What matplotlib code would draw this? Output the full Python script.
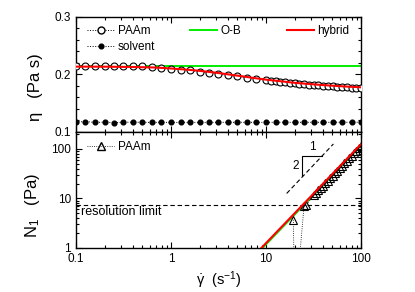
import matplotlib
matplotlib.use('Agg')
import matplotlib.pyplot as plt
from matplotlib.lines import Line2D
from matplotlib.ticker import LogLocator, MultipleLocator, NullFormatter

plt.rcParams['font.family'] = ['Liberation Sans', 'DejaVu Sans']
plt.rcParams['mathtext.fontset'] = 'custom'
plt.rcParams['mathtext.rm'] = 'Liberation Sans'
plt.rcParams['mathtext.it'] = 'Liberation Sans'
plt.rcParams['mathtext.default'] = 'regular'

# viscosity data (PAAm, measured)
rate_paam = [0.1, 0.126, 0.158, 0.2, 0.251, 0.316, 0.398, 0.501, 0.631, 0.794,
             1.0, 1.26, 1.58, 2.0, 2.51, 3.16, 3.98, 5.01, 6.31, 7.94,
             10.0, 11.2, 12.6, 14.1, 15.8, 17.8, 20.0, 22.4, 25.1, 28.2,
             31.6, 35.5, 39.8, 44.7, 50.1, 56.2, 63.1, 70.8, 79.4, 89.1, 100.0]
eta_paam = [0.2153, 0.2153, 0.2152, 0.2152, 0.2151, 0.2150, 0.2148, 0.2143, 0.2132, 0.2112,
            0.2100, 0.2085, 0.2070, 0.2050, 0.2025, 0.2005, 0.1985, 0.1965, 0.1945, 0.1925,
            0.1905, 0.1895, 0.1885, 0.1875, 0.1866, 0.1857, 0.1848, 0.1840, 0.1832, 0.1825,
            0.1818, 0.1811, 0.1805, 0.1799, 0.1793, 0.1787, 0.1781, 0.1776, 0.1771, 0.1766, 0.1761]

# solvent viscosity
rate_solv = [0.1, 0.126, 0.158, 0.2, 0.251, 0.316, 0.398, 0.501, 0.631, 0.794,
             1.0, 1.26, 1.58, 2.0, 2.51, 3.16, 3.98, 5.01, 6.31, 7.94,
             10.0, 12.6, 15.8, 20.0, 25.1, 31.6, 39.8, 50.1, 63.1, 79.4, 100.0]
eta_solv = [0.1172, 0.1182, 0.1166, 0.1170, 0.1162, 0.1168, 0.1170, 0.1168, 0.1166, 0.1167,
            0.1166, 0.1167, 0.1166, 0.1167, 0.1166, 0.1167, 0.1168, 0.1167, 0.1168, 0.1167,
            0.1168, 0.1167, 0.1168, 0.1168, 0.1168, 0.1168, 0.1168, 0.1168, 0.1169, 0.1169, 0.1169]

# model curves, viscosity
rate_ob = [0.1, 100.0]
eta_ob = [0.2153, 0.2153]
rate_hyb = [0.1, 0.2, 0.4, 0.7, 1.0, 1.5, 2.0, 3.0, 5.0, 7.0, 10.0, 20.0, 40.0, 70.0, 100.0]
eta_hyb = [0.2136, 0.2135, 0.2130, 0.2120, 0.2104, 0.2083, 0.2063, 0.2030, 0.1980, 0.1945,
           0.1910, 0.1855, 0.1815, 0.1790, 0.1777]

# first normal stress difference
rate_n1 = [19.4, 20.2, 21.8, 25.1, 26.6, 31.6, 33.5, 35.5, 37.6, 39.8, 42.2, 44.7, 47.3,
           50.1, 53.1, 56.2, 59.6, 63.1, 66.8, 70.8, 75.0, 79.4, 84.1, 89.1, 94.4, 100.0]
n1_paam = [3.7, 0.02, 0.3, 6.9, 7.4, 11.5, 12.9, 14.5, 16.2, 18.2, 20.5, 22.9, 25.8,
           28.9, 32.5, 36.4, 40.8, 45.8, 51.3, 57.7, 64.7, 72.5, 81.4, 91.2, 102.5, 113.0]
rate_line = [5.0, 10.0, 100.0]
n1_ob = [0.295, 1.18, 118.0]
n1_hyb = [0.31, 1.25, 125.0]
res_limit = 7.4
slope_rate = [16.5, 51.2]
slope_n1 = [12.6, 126.0]

fig = plt.figure(figsize=(4.15, 2.92), dpi=100)
ax1 = fig.add_axes([0.183, 0.548, 0.687, 0.394])
ax2 = fig.add_axes([0.183, 0.151, 0.687, 0.397])

# top panel
ax1.plot(rate_ob, eta_ob, color='#00ee00', lw=1.4, zorder=2)
ax1.plot(rate_paam, eta_paam, ls=':', color='k', lw=0.7, marker='o', ms=5,
         mfc='white', mec='k', mew=0.8, zorder=3)
ax1.plot(rate_solv, eta_solv, ls=':', color='k', lw=0.7, marker='o', ms=3.4,
         mfc='k', mec='k', zorder=3)
ax1.plot(rate_hyb, eta_hyb, color='#ff0000', lw=1.5, zorder=4)
ax1.set_xscale('log')
ax1.set_xlim(0.1, 100)
ax1.set_ylim(0.1, 0.3)
ax1.yaxis.set_minor_locator(MultipleLocator(0.02))
ax1.set_yticks([0.1, 0.2, 0.3])
ax1.set_yticklabels(['0.1', '0.2', '0.3'])
ax1.xaxis.set_major_formatter(NullFormatter())
ax1.set_ylabel('η   (Pa s)', fontsize=12)
ax1.yaxis.set_label_coords(-0.116, 0.39)

h_paam = Line2D([], [], ls=':', color='k', lw=0.7, marker='o', ms=5, mfc='white', mec='k')
h_solv = Line2D([], [], ls=':', color='k', lw=0.7, marker='o', ms=3.4, mfc='k', mec='k')
h_ob = Line2D([], [], color='#00ee00', lw=1.4)
h_hyb = Line2D([], [], color='#ff0000', lw=1.5)
kw = dict(frameon=False, fontsize=8.5, borderpad=0, handlelength=2.3, handletextpad=0.3,
          labelspacing=0.35, loc='upper left', borderaxespad=0)
leg1 = ax1.legend([h_paam, h_solv], ['PAAm', 'solvent'], bbox_to_anchor=(0.039, 0.93), **kw)
ax1.add_artist(leg1)
leg2 = ax1.legend([h_ob], ['O-B'], bbox_to_anchor=(0.4, 0.93), **kw)
ax1.add_artist(leg2)
ax1.legend([h_hyb], ['hybrid'], bbox_to_anchor=(0.74, 0.93), **kw)

# bottom panel
ax2.plot(rate_line, n1_ob, color='#00ee00', lw=1.4, zorder=2)
ax2.plot(rate_line, n1_hyb, color='#ff0000', lw=1.5, zorder=4)
ax2.plot(rate_n1, n1_paam, ls=':', color='k', lw=0.6, marker='^', ms=5.2,
         mfc='none', mec='k', mew=0.8, zorder=3)
ax2.axhline(res_limit, color='k', ls=(0, (4, 2.5)), lw=0.8)
ax2.plot(slope_rate, slope_n1, color='k', ls=(0, (4, 2.5)), lw=0.8)
ax2.plot([38.8, 23.9, 23.9], [73.0, 73.0, 28.5], color='k', lw=0.8)
ax2.text(30.5, 82, '1', fontsize=8.5, ha='center', va='bottom')
ax2.text(22.3, 46, '2', fontsize=8.5, ha='right', va='center')
ax2.text(0.113, 5.3, 'resolution limit', fontsize=9, ha='left', va='center')
ax2.set_xscale('log')
ax2.set_yscale('log', nonpositive='clip')
ax2.set_xlim(0.1, 100)
ax2.set_ylim(1, 220)
ax2.set_xticks([0.1, 1, 10, 100])
ax2.set_xticklabels(['0.1', '1', '10', '100'])
ax2.set_yticks([1, 10, 100])
ax2.set_yticklabels(['1', '10', '100'])
ax2.set_ylabel('N$_1$   (Pa)', fontsize=12)
ax2.yaxis.set_label_coords(-0.118, 0.37)
ax2.set_xlabel(r'$\dot{\gamma}$  (s$^{-1}$)', fontsize=10.5, labelpad=3.5)
h_tri = Line2D([], [], ls=':', color='k', lw=0.6, marker='^', ms=5.2, mfc='none', mec='k')
ax2.legend([h_tri], ['PAAm'], bbox_to_anchor=(0.039, 0.92), **kw)

for ax in (ax1, ax2):
    ax.xaxis.set_minor_locator(LogLocator(base=10, subs=range(2, 10)))
    ax.xaxis.set_minor_formatter(NullFormatter())
    ax.tick_params(which='both', direction='in', top=True, right=True, labelsize=8.5, width=0.8)
    ax.tick_params(which='major', length=4)
    ax.tick_params(which='minor', length=2)
    for s in ax.spines.values():
        s.set_linewidth(1.0)
ax2.yaxis.set_minor_locator(LogLocator(base=10, subs=range(2, 10)))
ax2.yaxis.set_minor_formatter(NullFormatter())

fig.savefig('out.png', dpi=100)
